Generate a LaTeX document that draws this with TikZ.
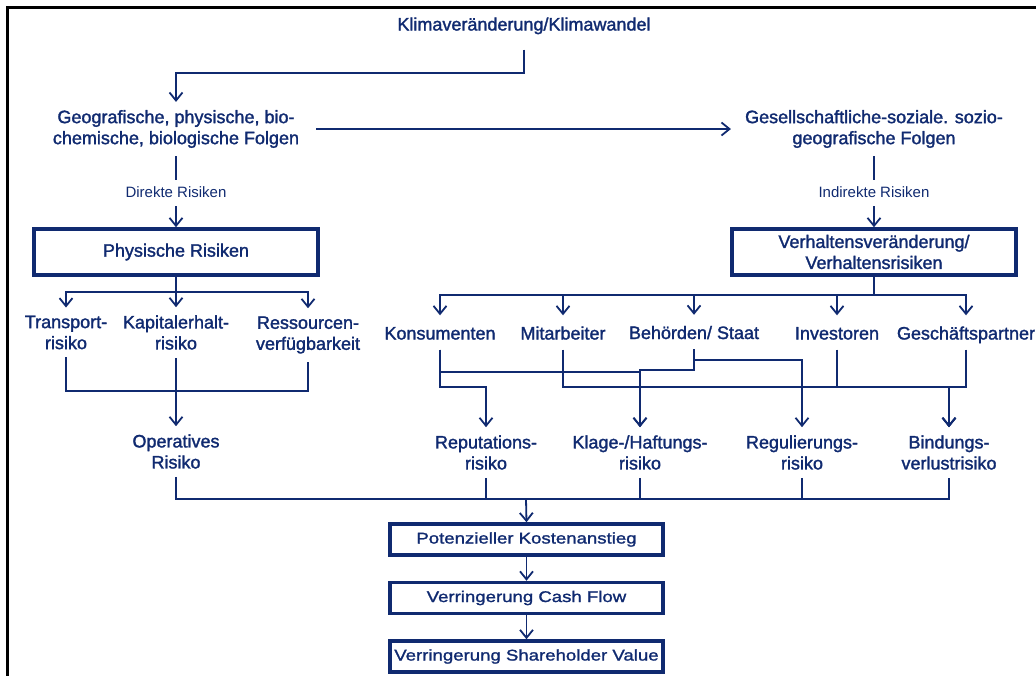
\documentclass[tikz,border=0pt]{standalone}
\usepackage{fontspec}
\setmainfont{Liberation Sans}
\newfontfamily\heavyfont[FakeBold=1.6]{Liberation Sans}
\newfontfamily\widefont[FakeStretch=1.2,FakeBold=1.4]{Liberation Sans}
\usetikzlibrary{arrows.meta, positioning}
\definecolor{navy}{RGB}{16,42,112}
\tikzstyle{txt} = [text=navy, align=center, font=\heavyfont\fontsize{18}{21}\selectfont, inner xsep=2pt, inner ysep=8pt]
\tikzstyle{row} = [text=navy, font=\heavyfont\fontsize{18}{21}\selectfont, text height=17pt, text depth=3pt, inner xsep=2pt, inner ysep=7pt]
\tikzstyle{lbl} = [text=navy, font=\fontsize{15}{18}\selectfont, text height=11pt, text depth=3pt, inner ysep=6pt]
\tikzstyle{risk} = [rectangle, draw=navy, line width=3.5pt, minimum width=284pt, minimum height=46pt, text=navy, align=center, font=\heavyfont\fontsize{18}{21}\selectfont]
\tikzstyle{result} = [rectangle, draw=navy, line width=3.5pt, minimum width=273pt, minimum height=31pt, text=navy, font=\widefont\fontsize{15.5}{18}\selectfont]
\tikzstyle{line} = [draw=navy, line width=1.8pt]
\tikzstyle{arrow} = [line, -{Straight Barb[length=8pt,width=13pt]}]

\begin{document}
\begin{tikzpicture}[x=1pt, y=-1pt, node distance=24pt]
\useasboundingbox (0,0) rectangle (1036,675);
\draw[line width=3pt] (7,690) -- (7,7) -- (1045,7);

\node (klima) [row] at (524,23.5) {Klimaveränderung/Klimawandel};
\node (geo) [txt] at (176,129) {Geografische, physische, bio-\\chemische, biologische Folgen};
\node (gesell) [txt] at (874,129) {Gesellschaftliche-soziale. sozio-\\geografische Folgen};
\node (direkt) [lbl] at (176,193) {Direkte Risiken};
\node (indirekt) [lbl] at (874,193) {Indirekte Risiken};
\node (phys) [risk] at (176,252) {Physische Risiken};
\node (verh) [risk] at (874,252) {Verhaltensveränderung/\\Verhaltensrisiken};

\node (transport) [txt] at (66,332.5) {Transport-\\risiko};
\node (kapital) [txt] at (176,332.5) {Kapitalerhalt-\\risiko};
\node (ressourcen) [txt] at (308,335) {Ressourcen-\\verfügbarkeit};
\node (operativ) [txt] at (176,451.5) {Operatives\\Risiko};

\node (konsum) [row] at (440,332.5) {Konsumenten};
\node (mitarb) [row] at (563,332.5) {Mitarbeiter};
\node (behoerde) [row] at (694,332) {Behörden/ Staat};
\node (invest) [row] at (837,332.5) {Investoren};
\node (partner) [row] at (966,332.5) {Geschäftspartner};

\node (reputation) [txt] at (486,452.5) {Reputations-\\risiko};
\node (klage) [txt] at (640,452.5) {Klage-/Haftungs-\\risiko};
\node (regulierung) [txt] at (802,452.5) {Regulierungs-\\risiko};
\node (bindung) [txt] at (949,452.5) {Bindungs-\\verlustrisiko};

\coordinate (bar) at (526,499);
\node (kosten) [result] at (526.5,539.5) {Potenzieller Kostenanstieg};
\node (cash) [result, below=of kosten] {Verringerung Cash Flow};
\node (share) [result, below=of cash] {Verringerung Shareholder Value};

\draw [arrow, shorten <=9pt] (klima.south) -- ++(0,32.5) -| (geo.north);
\draw [arrow, shorten <=15pt, shorten >=12pt] (geo.east) -- (gesell.west);
\draw [line] (geo.south) -- (direkt.north);
\draw [arrow] (direkt.south) -- (phys.north);
\draw [line] (gesell.south) -- (indirekt.north);
\draw [arrow] (indirekt.south) -- (verh.north);

\foreach \n in {transport,kapital,ressourcen}
  \draw [arrow] (phys.south) -- ++(0,15) -| (\n.north);
\draw [line] (transport.south) -- ++(0,33.5) -| (ressourcen.south);
\draw [arrow] (kapital.south) -- (operativ.north);

\foreach \n in {konsum,mitarb,behoerde,invest,partner}
  \draw [arrow] (verh.south) -- ++(0,18) -| (\n.north);
\draw [arrow] (konsum.south) -- ++(0,37.5) -| (reputation.north);
\draw [arrow] (konsum.south) -- ++(0,22.5) -| (klage.north);
\draw [arrow] (behoerde.south) -- ++(0,20.5) -| (klage.north);
\draw [arrow] (behoerde.south) -- ++(0,11) -| (regulierung.north);
\foreach \n in {mitarb,invest,partner}
  \draw [arrow] (\n.south) -- ++(0,37.5) -| (bindung.north);

\draw [line] (operativ.south) |- (bar) -| (bindung.south);
\foreach \n in {reputation,klage,regulierung}
  \draw [line] (\n.south) -- (\n.south |- bar);
\draw [arrow] (bar) -- (kosten.north);
\draw [arrow] (kosten.south) -- (cash.north);
\draw [arrow] (cash.south) -- (share.north);
\end{tikzpicture}
\end{document}
